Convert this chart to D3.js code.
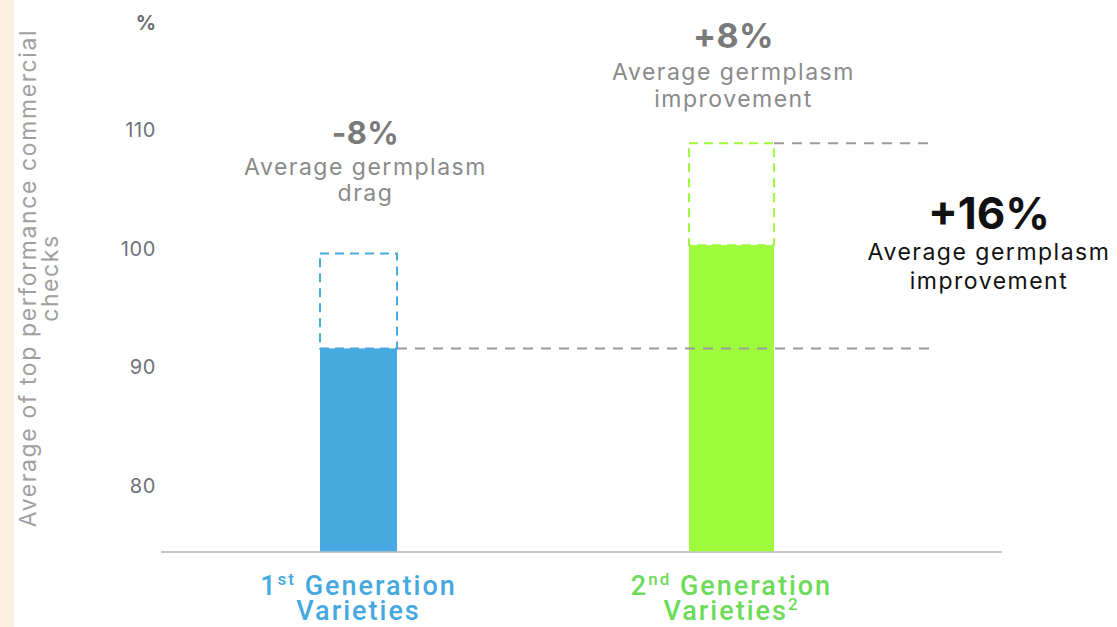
<!DOCTYPE html>
<html>
<head>
<meta charset="utf-8">
<script src="https://cdn.jsdelivr.net/npm/d3@7"></script>
<style>
  html, body { margin: 0; padding: 0; background: #fff; }
  svg { display: block; }
</style>
</head>
<body>
<svg id="chart" width="1117" height="627"></svg>
<script>
// Index vs. average of top performance commercial checks (%)
const categories = ["1st Generation Varieties", "2nd Generation Varieties"];
const achieved = [91.6, 100.3];     // filled bars
const potential = [99.6, 108.9];    // dashed outline above each bar
const referenceLevels = [91.6, 108.9];
const yTicks = [80, 90, 100, 110];
const changeLabels = ["-8%", "+8%"];
const changeNotes = [["Average germplasm", "drag"], ["Average germplasm", "improvement"]];
const totalChange = "+16%";
const totalNote = ["Average germplasm", "improvement"];

const svg = d3.select("#chart");
const W = 1117, H = 627;
const font = "Inter, 'Open Sans', sans-serif";

// pale side strip
svg.append("rect").attr("x", 0).attr("y", 0).attr("width", 14).attr("height", H).attr("fill", "#fdf0e1");

const y = d3.scaleLinear().domain([74.5, 110]).range([551.3, 130.1]);
const x = d3.scaleBand().domain(categories).range([172, 918]).padding(0);
const barWidths = [77, 85];
const fills = ["#46a9e0", "#9dfb3c"];
const labelColors = ["#45a8df", "#6cdb59"];

// y axis tick labels (no axis line)
const yAxis = d3.axisLeft(y).tickValues(yTicks).tickSize(0).tickPadding(0);
const gy = svg.append("g").attr("transform", "translate(156,0)").call(yAxis);
gy.select(".domain").remove();
gy.selectAll("text").attr("font-family", font).attr("font-size", 20)
  .attr("letter-spacing", 0.6).attr("fill", "#6f727c");

svg.append("text").attr("x", 146).attr("y", 30).attr("text-anchor", "middle")
  .attr("font-family", font).attr("font-size", 20).attr("font-weight", 700).attr("fill", "#6c6c6c").text("%");

// rotated y title
const yt = svg.append("text").attr("transform", "translate(36,278) rotate(-90)")
  .attr("text-anchor", "middle").attr("font-family", font).attr("font-size", 23)
  .attr("letter-spacing", 1.6).attr("fill", "#a0a0a0");
yt.append("tspan").attr("x", 0).attr("dy", 0).text("Average of top performance commercial");
yt.append("tspan").attr("x", 0).attr("dy", 22).text("checks");

// baseline
svg.append("line").attr("x1", 161).attr("x2", 1002).attr("y1", 552).attr("y2", 552)
  .attr("stroke", "#c4c4ca").attr("stroke-width", 2);

const cx = i => x(categories[i]) + x.bandwidth() / 2;

// filled bars
categories.forEach((c, i) => {
  svg.append("rect").attr("x", cx(i) - barWidths[i] / 2).attr("width", barWidths[i])
    .attr("y", y(achieved[i])).attr("height", y(74.5) - y(achieved[i]))
    .attr("fill", fills[i]);
});

// reference dashed lines
referenceLevels.forEach((v, i) => {
  const x1 = cx(i) + barWidths[i] / 2;
  svg.append("line").attr("x1", x1).attr("x2", 936).attr("y1", y(v)).attr("y2", y(v))
    .attr("stroke", "#9b9b9b").attr("stroke-width", 2).attr("stroke-dasharray", "10,8");
});

// dashed potential boxes
categories.forEach((c, i) => {
  const x0 = cx(i) - barWidths[i] / 2;
  svg.append("rect").attr("x", x0).attr("width", barWidths[i])
    .attr("y", y(potential[i])).attr("height", y(achieved[i]) - y(potential[i]))
    .attr("fill", "none").attr("stroke", fills[i]).attr("stroke-width", 2)
    .attr("stroke-dasharray", "9,6");
});

// change annotations above each bar
const annY = [[133, 167, 193], [37, 72, 99]];
categories.forEach((c, i) => {
  const g = svg.append("g").attr("font-family", font).attr("text-anchor", "middle");
  const ax = cx(i) + (i === 0 ? 7 : 2);
  g.append("text").attr("x", ax).attr("y", annY[i][0] + 11)
    .attr("font-size", i === 0 ? 31 : 34).attr("font-weight", 700).attr("letter-spacing", 0.5)
    .attr("fill", "#7a7a7a").text(changeLabels[i]);
  changeNotes[i].forEach((t, k) => {
    g.append("text").attr("x", ax).attr("y", annY[i][k + 1] + 8)
      .attr("font-size", 23).attr("letter-spacing", 1.5).attr("fill", "#8a8a8a").text(t);
  });
});

// total change annotation
const tg = svg.append("g").attr("font-family", font).attr("text-anchor", "middle").attr("fill", "#111");
tg.append("text").attr("x", 989).attr("y", 229).attr("font-size", 44).attr("font-weight", 700).text(totalChange);
tg.append("text").attr("x", 989).attr("y", 260).attr("font-size", 23).attr("letter-spacing", 1.5).text(totalNote[0]);
tg.append("text").attr("x", 989).attr("y", 289).attr("font-size", 23).attr("letter-spacing", 1.5).text(totalNote[1]);

// category labels with superscripts
const sups = [["1", "st", " Generation"], ["2", "nd", " Generation"]];
categories.forEach((c, i) => {
  const g = svg.append("g").attr("font-family", "Roboto, sans-serif").attr("font-weight", 500)
    .attr("text-anchor", "middle").attr("fill", labelColors[i]).attr("letter-spacing", 2);
  const t1 = g.append("text").attr("x", cx(i)).attr("y", 595).attr("font-size", 27);
  t1.append("tspan").text(sups[i][0]);
  t1.append("tspan").attr("font-size", 17).attr("dy", -10).text(sups[i][1]);
  t1.append("tspan").attr("dy", 10).text(sups[i][2]);
  const t2 = g.append("text").attr("x", cx(i)).attr("y", 620).attr("font-size", 27);
  t2.append("tspan").text("Varieties");
  if (i === 1) t2.append("tspan").attr("font-size", 17).attr("dy", -10).text("2");
});
</script>
</body>
</html>
